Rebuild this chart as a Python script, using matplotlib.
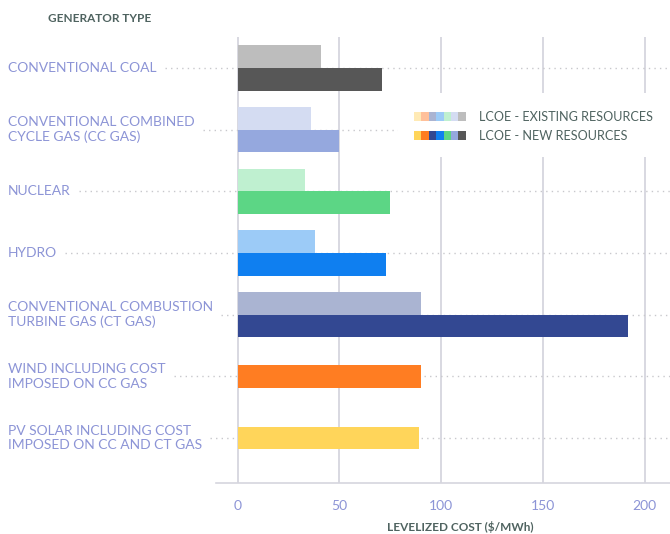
import matplotlib
matplotlib.use("Agg")
import matplotlib.pyplot as plt
from matplotlib.patches import Rectangle
from matplotlib.transforms import blended_transform_factory
import numpy as np

categories = ["CONVENTIONAL COAL",
              "CONVENTIONAL COMBINED\nCYCLE GAS (CC GAS)",
              "NUCLEAR",
              "HYDRO",
              "CONVENTIONAL COMBUSTION\nTURBINE GAS (CT GAS)",
              "WIND INCLUDING COST\nIMPOSED ON CC GAS",
              "PV SOLAR INCLUDING COST\nIMPOSED ON CC AND CT GAS"]
existing = [41, 36, 33, 38, 90, None, None]
new = [71, 50, 75, 73, 192, 90, 89]
existing_colors = ["#bdbdbd", "#d4dcf2", "#bff0d0", "#9ccbf7", "#aab4d2", "#ffc09a", "#ffeab5"]
new_colors = ["#575757", "#95a8de", "#5cd685", "#0f7ff0", "#334892", "#ff7d22", "#ffd55a"]
xticks = [0, 50, 100, 150, 200]
legend_labels = ["LCOE - EXISTING RESOURCES", "LCOE - NEW RESOURCES"]

LAV = "#8c94d6"
DARK = "#4f6360"
FONT = "Lato"

W, H = 670, 534
fig = plt.figure(figsize=(6.7, 5.34), dpi=100)
ax = fig.add_axes([216 / W, 1 - 483 / H, (670 - 216) / W, (483 - 37) / H])

n = len(categories)
bh = 0.37
for i in range(n):
    if existing[i] is not None:
        ax.barh(i - bh / 2, existing[i], height=bh, color=existing_colors[i], zorder=3)
        ax.barh(i + bh / 2, new[i], height=bh, color=new_colors[i], zorder=3)
    else:
        ax.barh(i, new[i], height=bh, color=new_colors[i], zorder=3)

ax.set_ylim(6.73, -0.503)
ax.set_xlim(-10.66, 212.4)
ax.set_yticks([])
ax.set_xticks(xticks)
ax.set_xticklabels([str(t) for t in xticks], color=LAV, fontsize=10, family=FONT)
ax.tick_params(axis="x", length=0, pad=12)
for s in ["top", "right", "left"]:
    ax.spines[s].set_visible(False)
ax.spines["bottom"].set_color("#d6d6de")
ax.spines["bottom"].set_linewidth(1.2)
for t in xticks:
    ax.axvline(t, color="#d6d6de", lw=1.3, zorder=1)

ax.set_xlabel("LEVELIZED COST ($/MWh)", color=DARK, fontsize=8.5,
              family=FONT, fontweight="bold")
ax.xaxis.set_label_coords((460 - 216) / 454, -(527 - 483) / 446)
ax.xaxis.label.set_va("center")

tr = blended_transform_factory(fig.transFigure, ax.transData)
texts = []
for i, c in enumerate(categories):
    t = ax.text(8 / W, i, c, transform=tr, ha="left", va="center", color=LAV,
                fontsize=10, family=FONT, linespacing=1.25)
    texts.append(t)

fig.text(48 / W, 1 - 18 / H, "GENERATOR TYPE", color=DARK, fontsize=8.5,
         family=FONT, fontweight="bold", va="center")

fig.canvas.draw()
r = fig.canvas.get_renderer()
inv = ax.transData.inverted()
for i, t in enumerate(texts):
    bb = t.get_window_extent(r)
    x0 = inv.transform((bb.x1 + 8, 0))[0]
    ax.plot([x0, 213], [i, i], color="#c8c8cc", lw=1, ls=(0, (1, 3)), zorder=2, clip_on=False)

# legend
fig.patches.append(Rectangle((398 / W, 1 - 157 / H), (672 - 398) / W, 64 / H,
                             transform=fig.transFigure, facecolor="white", edgecolor="none", zorder=5))
sw = 7.4
rows = [(117, ["#ffeab5", "#ffc09a", "#aab4d2", "#9ccbf7", "#bff0d0", "#d4dcf2", "#bdbdbd"]),
        (136, ["#ffd55a", "#ff7d22", "#334892", "#0f7ff0", "#5cd685", "#95a8de", "#575757"])]
for (yc, cols), lab in zip(rows, legend_labels):
    for k, col in enumerate(cols):
        fig.patches.append(Rectangle(((414 + k * sw) / W, 1 - (yc + 4.5) / H), sw / W, 9 / H,
                                     transform=fig.transFigure, facecolor=col, edgecolor="none", zorder=6))
    fig.text(479 / W, 1 - yc / H, lab, color=DARK, fontsize=9.1, family=FONT,
             va="center", ha="left", zorder=7)

fig.savefig("out.png", dpi=100)
